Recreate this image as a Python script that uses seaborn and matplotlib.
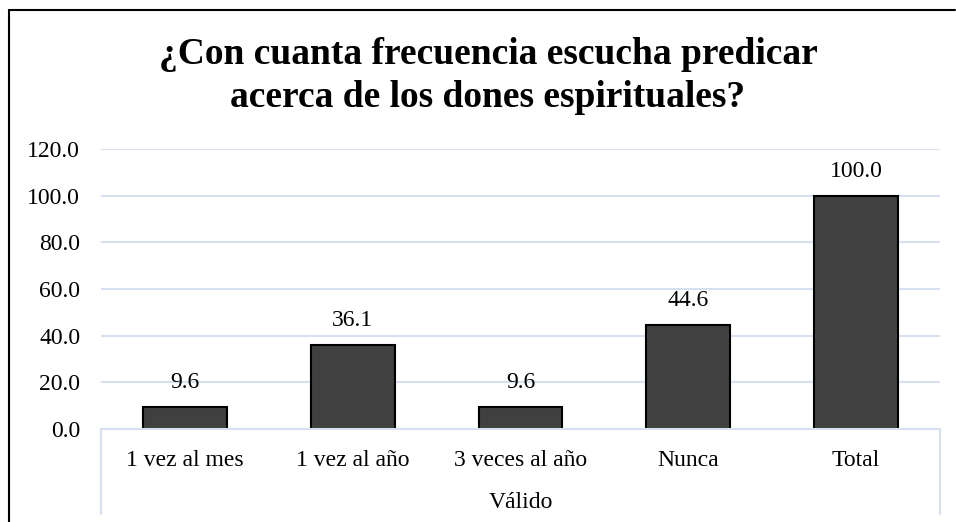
import matplotlib
matplotlib.use("Agg")
import matplotlib.pyplot as plt
import seaborn as sns
import pandas as pd
from matplotlib.lines import Line2D

categories = ["1 vez al mes", "1 vez al año", "3 veces al año", "Nunca", "Total"]
values = [9.6, 36.1, 9.6, 44.6, 100.0]
group_label = "Válido"
title_lines = ["¿Con cuanta frecuencia escucha predicar", "acerca de los dones espirituales?"]
yticks = [0, 20, 40, 60, 80, 100, 120]

sns.set_theme(style="white")
plt.rcParams['font.family'] = ['Liberation Serif', 'DejaVu Serif']
plt.rcParams['text.color'] = 'black'

W, H = 956, 522
fig = plt.figure(figsize=(W / 100, H / 100), dpi=100)
x0, x1, y0, y1 = 101, 940, 429, 149
ax = fig.add_axes([x0 / W, 1 - y0 / H, (x1 - x0) / W, (y0 - y1) / H])

df = pd.DataFrame({"cat": categories, "val": values})
sns.barplot(data=df, x="cat", y="val", ax=ax, color="#404040", saturation=1,
            edgecolor="black", linewidth=1.5, width=0.5, zorder=3)

grid_c = "#D6E0F0"
ax.set_ylim(0, 120)
ax.set_yticks(yticks)
ax.set_yticklabels([f"{v:.1f}" for v in yticks])
ax.yaxis.grid(True, color=grid_c, linewidth=1.5, zorder=0)
ax.set_axisbelow(True)
for s in ["top", "right", "left"]:
    ax.spines[s].set_visible(False)
ax.spines["bottom"].set_color(grid_c)
ax.spines["bottom"].set_linewidth(1.5)
ax.spines["bottom"].set_zorder(4)
ax.tick_params(axis="both", length=0, labelsize=17, colors="black")
ax.tick_params(axis="y", pad=15)
ax.tick_params(axis="x", pad=15)
ax.set_ylabel("")
ax.set_xlabel(group_label, fontsize=17, labelpad=15, color="black")

for c in ax.containers:
    ax.bar_label(c, labels=[f"{v:.1f}" for v in values], padding=10, fontsize=17,
                 color="black")

# group box side lines
for xp in (x0, x1):
    fig.add_artist(Line2D([xp / W, xp / W], [1 - y0 / H, 1 - 514 / H],
                          color=grid_c, linewidth=1.5, transform=fig.transFigure))

# outer border (left and top)
fig.add_artist(Line2D([9 / W, 9 / W], [0, 1 - 10 / H], color="black", linewidth=1.5,
                      transform=fig.transFigure))
fig.add_artist(Line2D([9 / W, 955 / W], [1 - 10 / H, 1 - 10 / H], color="black",
                      linewidth=1.5, transform=fig.transFigure))

for line, base in zip(title_lines, (64, 107)):
    fig.text(488 / W, 1 - base / H, line, ha="center", va="baseline", fontsize=27,
             fontweight="bold", color="black")

fig.savefig("out.png", dpi=100)
